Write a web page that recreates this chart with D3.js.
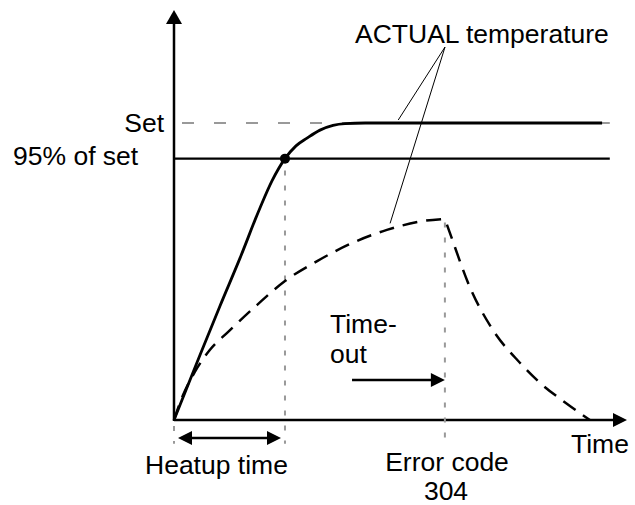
<!DOCTYPE html>
<html><head><meta charset="utf-8">
<script src="https://cdn.jsdelivr.net/npm/d3@7"></script>
<style>
html,body{margin:0;padding:0;background:#fff;}
svg text{font-family:"Liberation Sans",Arial,sans-serif;font-size:26.5px;fill:#000;}
</style></head>
<body>
<script>
// ---- data (time units 0..100, temperature units: 0..100 = set) ----
const setValue = 100;
const ninetyFiveValue = 88;
const heatupTime = 24.5;
const errorTime = 59.8;
const setLineEnd = 96.2;
// ACTUAL temperature, normal heatup (solid)
const heatupCurve = [
  [0,0],[5.74,21.9],[10.15,38.4],[14.57,54.5],[18.98,71.4],[21.63,80.5],[24.5,88],
  [26.93,92.3],[29.36,94.9],[32.23,97.6],[35.1,99.2],[37.75,99.8],[42.2,100],[94.5,100]
];
// ACTUAL temperature, failing heatup (dashed) - rise and fall
const failRise = [
  [0,0],[2.0,8.4],[4.6,16.2],[7.9,23.6],[11.9,29.6],[18.3,38.7],[24.5,46.8],
  [31.6,53.5],[38.9,59.3],[47.0,64.0],[55.0,67.0],[59.8,67.7]
];
const failFall = [
  [59.8,67.7],[60.9,63.0],[65.3,44.8],[70.4,30.3],[76.4,19.2],[80.8,12.5],[86.8,5.4],[91.8,0]
];
const labels = {
  actual: "ACTUAL temperature",
  set: "Set",
  ninetyFive: "95% of set",
  timeout: ["Time-", "out"],
  heatup: "Heatup time",
  error: ["Error code", "304"],
  time: "Time"
};

const W = 635, H = 505;
const x = d3.scaleLinear().domain([0,100]).range([174,627]);
const y = d3.scaleLinear().domain([0,100]).range([420,123]);

const svg = d3.select("body").append("svg").attr("width",W).attr("height",H);

// axes (no ticks)
const xAxisEnd = 613, yAxisTop = 24;
svg.append("line").attr("x1",x(0)).attr("y1",y(0)).attr("x2",xAxisEnd).attr("y2",y(0))
  .attr("stroke","#000").attr("stroke-width",2.5);
svg.append("line").attr("x1",x(0)).attr("y1",y(0)+1).attr("x2",x(0)).attr("y2",yAxisTop)
  .attr("stroke","#000").attr("stroke-width",2.5);
// arrowheads
svg.append("path").attr("d",`M${x(0)},10 L${x(0)-8},${yAxisTop} L${x(0)+8},${yAxisTop} Z`).attr("fill","#000");
svg.append("path").attr("d",`M627,${y(0)} L613,${y(0)-7} L613,${y(0)+7} Z`).attr("fill","#000");

// set reference (gray dashed)
svg.append("line").attr("x1",x(0)+2).attr("x2",x(setLineEnd)).attr("y1",y(setValue)).attr("y2",y(setValue))
  .attr("stroke","#999").attr("stroke-width",2).attr("stroke-dasharray","12,20").attr("stroke-dashoffset",-6);
// 95% line
svg.append("line").attr("x1",x(0)).attr("x2",x(setLineEnd)).attr("y1",y(ninetyFiveValue)).attr("y2",y(ninetyFiveValue))
  .attr("stroke","#000").attr("stroke-width",2.2);

// gray dotted verticals
const dot = (t,v1,v2)=>svg.append("line").attr("x1",x(t)).attr("x2",x(t)).attr("y1",y(v1)).attr("y2",y(v2))
  .attr("stroke","#999").attr("stroke-width",2).attr("stroke-dasharray","5,10");
dot(heatupTime, 84, -8);
dot(errorTime, 66.5, -8);
dot(0, -2, -8);

const line = d3.line().x(d=>x(d[0])).y(d=>y(d[1])).curve(d3.curveMonotoneX);
svg.append("path").attr("d",line(heatupCurve)).attr("fill","none").attr("stroke","#000").attr("stroke-width",2.8);
svg.append("path").attr("d",line(failRise)).attr("fill","none").attr("stroke","#000").attr("stroke-width",2.5).attr("stroke-dasharray","15,9");
svg.append("path").attr("d",line(failFall)).attr("fill","none").attr("stroke","#000").attr("stroke-width",2.5).attr("stroke-dasharray","15,9").attr("stroke-dashoffset",-6);

// 95% crossing dot
svg.append("circle").attr("cx",x(heatupTime)).attr("cy",y(ninetyFiveValue)).attr("r",5).attr("fill","#000");

// leader lines
svg.append("line").attr("x1",445).attr("y1",47).attr("x2",x(49.5)).attr("y2",y(100)-3).attr("stroke","#000").attr("stroke-width",1);
svg.append("line").attr("x1",445).attr("y1",47).attr("x2",x(47.7)).attr("y2",y(66.2)).attr("stroke","#000").attr("stroke-width",1);

// arrows
function arrow(x1,x2,yy,double){
  svg.append("line").attr("x1",double?x1+10:x1).attr("x2",x2-10).attr("y1",yy).attr("y2",yy).attr("stroke","#000").attr("stroke-width",2.5);
  svg.append("path").attr("d",`M${x2},${yy} L${x2-14},${yy-7} L${x2-14},${yy+7} Z`).attr("fill","#000");
  if(double) svg.append("path").attr("d",`M${x1},${yy} L${x1+14},${yy-7} L${x1+14},${yy+7} Z`).attr("fill","#000");
}
arrow(x(0)+4, x(heatupTime)-4, y(-6.1), true);
arrow(x(39.3), x(errorTime), y(13.5), false);

// text
svg.append("text").attr("x",355).attr("y",43).text(labels.actual);
svg.append("text").attr("x",164).attr("y",132).attr("text-anchor","end").text(labels.set);
svg.append("text").attr("x",13).attr("y",165).text(labels.ninetyFive);
svg.append("text").attr("x",330).attr("y",333).text(labels.timeout[0]);
svg.append("text").attr("x",330).attr("y",363).text(labels.timeout[1]);
svg.append("text").attr("x",145).attr("y",474).text(labels.heatup);
svg.append("text").attr("x",447).attr("y",471).attr("text-anchor","middle").text(labels.error[0]);
svg.append("text").attr("x",446).attr("y",499.5).attr("text-anchor","middle").text(labels.error[1]);
svg.append("text").attr("x",571).attr("y",453).text(labels.time);
</script>
</body></html>
